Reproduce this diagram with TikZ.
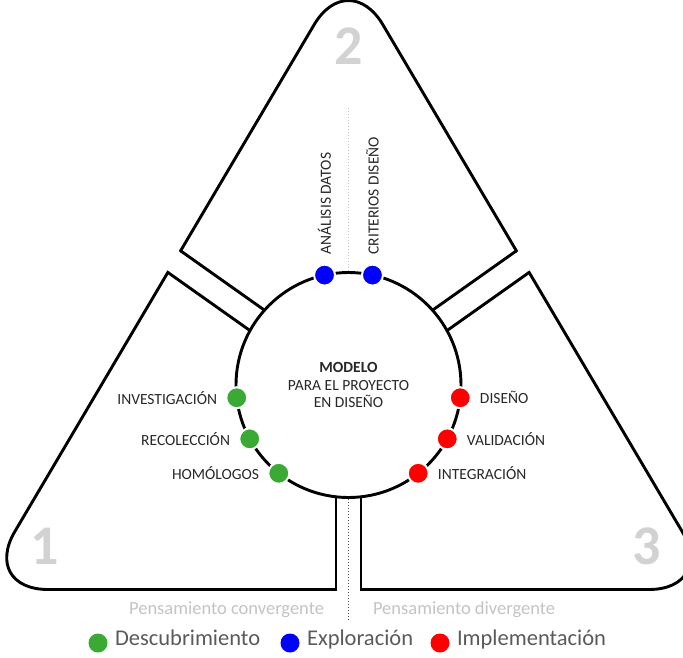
\documentclass[tikz,border=0pt]{standalone}
\usepackage{fontspec}
\setmainfont{Carlito}
\usetikzlibrary{positioning}

\definecolor{descubr}{RGB}{58,170,53}
\definecolor{explor}{RGB}{0,0,255}
\definecolor{implem}{RGB}{255,0,0}
\definecolor{labelgray}{RGB}{40,40,40}
\definecolor{leggray}{RGB}{90,90,90}
\definecolor{softgray}{RGB}{195,195,195}
\definecolor{digitgray}{RGB}{210,210,210}

% outline of the big rounded triangle
\newcommand{\outerframe}{(348.5,589.5) -- (716.4,589.5) -- (348.5,-33.5) -- (-19.4,589.5) -- cycle}

\begin{document}
\begin{tikzpicture}[x=1pt,y=-1pt,
  frame/.style={draw=black,line width=2.9pt},
  dot/.style={circle,fill=#1,draw=white,line width=2pt,inner sep=0pt,minimum size=21pt},
  phase/.style={font=\fontsize{15.5pt}{17.5pt}\selectfont,text=labelgray,inner sep=3pt},
  digit/.style={font=\fontsize{56pt}{56pt}\selectfont\bfseries,text=digitgray},
  think/.style={font=\fontsize{18.5pt}{21pt}\selectfont,text=softgray},
  legend/.style={font=\fontsize{22.5pt}{26pt}\selectfont,text=leggray,text height=1.5ex,text depth=.25ex},
  guide/.style={line width=1.4pt,dash pattern=on 1.3pt off 1.7pt}]
\useasboundingbox (0,0) rectangle (683,657);
\clip (0,0) rectangle (683,657);

% centre of the model
\coordinate (C) at (348.5,385);

% the three phases
\draw[frame,rounded corners=67.5pt] \outerframe;
\foreach \a in {-90,144.7,35.3}
  \fill[white,shift={(C)},rotate=\a] (0,-11.05) rectangle (230,11.05);
\begin{scope}
  \clip[rounded corners=67.5pt] \outerframe;
  \foreach \a in {-90,144.7,35.3}
    \draw[frame,shift={(C)},rotate=\a] (0,-12.5) -- (230,-12.5) (0,12.5) -- (230,12.5);
\end{scope}

\node[digit] (one) at (45,546) {1};
\node[digit] (two) at (348.5,46) {2};
\node[digit] (three) at (646.5,546) {3};

% guides
\coordinate (topend) at (348.5,108);
\coordinate (botend) at (348.5,619);

% the model
\node[circle,frame,fill=white,minimum size=225pt,inner sep=0pt,align=center,
      font=\fontsize{15.5pt}{17.5pt}\selectfont,text=labelgray] (model) at (C)
  {\textbf{MODELO}\\PARA EL PROYECTO\\EN DISEÑO};

\draw[guide,softgray] (model.north) -- (topend);
\draw[guide,black!70] (model.south) -- (botend);

% steps on the circle
\node[dot=descubr] (inv) at ([shift={(173.5:112.5)}]C) {};
\node[dot=descubr] (rec) at ([shift={(151.4:112.5)}]C) {};
\node[dot=descubr] (hom) at ([shift={(128.3:112.5)}]C) {};
\node[dot=explor] (ana) at ([shift={(257.7:112.5)}]C) {};
\node[dot=explor] (cri) at ([shift={(282.3:112.5)}]C) {};
\node[dot=implem] (dis) at ([shift={(6.5:112.5)}]C) {};
\node[dot=implem] (val) at ([shift={(28.6:112.5)}]C) {};
\node[dot=implem] (int) at ([shift={(51.7:112.5)}]C) {};

\node[phase] (invt) [left=5pt of inv] {INVESTIGACIÓN};
\node[phase] (rect) [left=5pt of rec] {RECOLECCIÓN};
\node[phase] (homt) [left=5pt of hom] {HOMÓLOGOS};
\node[phase] (dist) [right=5pt of dis] {DISEÑO};
\node[phase] (valt) [right=5pt of val] {VALIDACIÓN};
\node[phase] (intt) [right=5pt of int] {INTEGRACIÓN};
\node[phase,rotate=90,anchor=west] (anat) at ([yshift=6pt]ana.north) {ANÁLISIS DATOS};
\node[phase,rotate=90,anchor=west] (crit) at ([yshift=6pt]cri.north) {CRITERIOS DISEÑO};

% kinds of thinking
\coordinate (split) at (348.5,610);
\node[think] (conv) [left=21pt of split] {Pensamiento convergente};
\node[think] (diver) [right=21pt of split] {Pensamiento divergente};

% legend
\node[dot=descubr,draw=none,minimum size=19pt] (ldesc) at (98,643) {};
\node[dot=explor,draw=none,minimum size=19pt] (lexpl) at (290,643) {};
\node[dot=implem,draw=none,minimum size=19pt] (limpl) at (440,643) {};
\node[legend] (tdesc) [right=3pt of ldesc] {Descubrimiento};
\node[legend] (texpl) [right=3pt of lexpl] {Exploración};
\node[legend] (timpl) [right=3pt of limpl] {Implementación};
\end{tikzpicture}
\end{document}
